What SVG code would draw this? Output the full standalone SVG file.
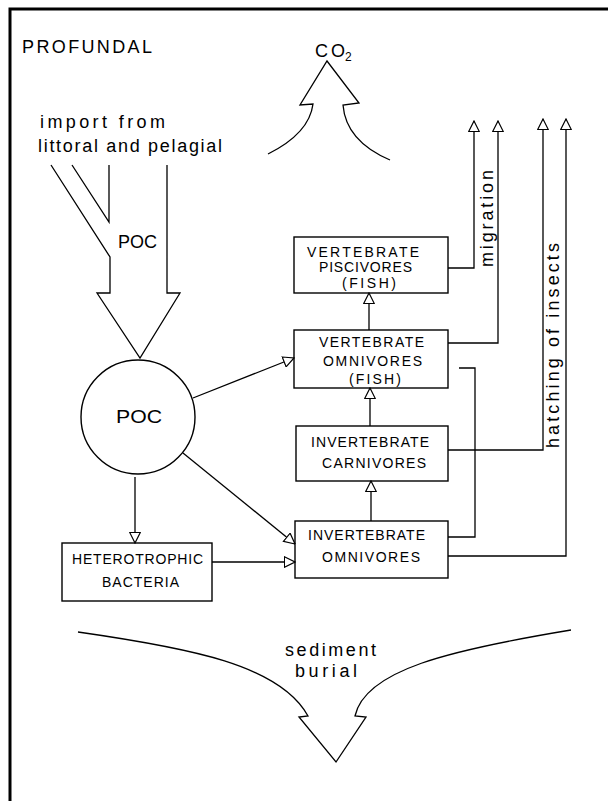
<svg xmlns="http://www.w3.org/2000/svg" width="608" height="801" viewBox="0 0 608 801">
  <style>
    .frame { fill: none; stroke: #000; stroke-width: 3; }
    .ln { fill: none; stroke: #000; stroke-width: 1.3; stroke-linejoin: miter; }
    .box { fill: #fff; stroke: #000; stroke-width: 1.4; }
    .cap { font-family: "Liberation Sans", Arial, sans-serif; font-size: 14px; fill: #000; }
    .hand { font-family: "Liberation Sans", Arial, sans-serif; font-size: 18px; fill: #000; }
  </style>
  <defs>
    <marker id="tri" viewBox="0 0 12 12" refX="11.3" refY="6" markerWidth="12" markerHeight="12" markerUnits="userSpaceOnUse" orient="auto">
      <path d="M0.7,0.7 L11.3,6 L0.7,11.3 Z" fill="#fff" stroke="#000" stroke-width="1.2"/>
    </marker>
  </defs>

  <rect width="608" height="801" fill="#fff"/>

  <!-- page frame: top and left rules only -->
  <path class="frame" d="M10,801 V9 H608"/>

  <text class="hand" x="22" y="53" font-size="20" textLength="130">PROFUNDAL</text>

  <!-- import of particulate organic carbon -->
  <g id="import">
    <text class="hand" x="40" y="128" font-size="19" textLength="125">import from</text>
    <text class="hand" x="38" y="152" font-size="19" textLength="184">littoral and pelagial</text>
    <path class="ln" d="M72,165 L109,222 V165"/>
    <path class="ln" d="M51,165 L110,257 V293 H97 L140,358 L180,293 H167 V165"/>
    <text class="hand" x="118" y="248" font-size="20" textLength="39">POC</text>
  </g>

  <!-- respiration -->
  <g id="co2">
    <path class="ln" d="M268,154 C290,143 310,128 313,104 L300,105 L327,61 L359,103 L343,105 C345,130 362,148 390,160"/>
    <text class="hand" x="315" y="57">C<tspan x="331">O</tspan><tspan x="345" y="61" font-size="12">2</tspan></text>
  </g>

  <!-- burial -->
  <g id="burial">
    <path class="ln" d="M78,632 C190,648 280,665 308,716 L299,717 L336,762 L366,717 L355,716 C365,670 450,650 571,630"/>
    <text class="hand" x="285" y="656" font-size="16" textLength="91">sediment</text>
    <text class="hand" x="295" y="677" font-size="16" textLength="62">burial</text>
  </g>

  <g id="poc-pool">
    <circle class="box" cx="138" cy="417" r="57"/>
    <text class="hand" x="116" y="423" font-size="25" textLength="46" lengthAdjust="spacingAndGlyphs">POC</text>
  </g>

  <g id="bacteria">
    <rect class="box" x="62" y="543" width="150" height="58"/>
    <text class="cap" x="72" y="564" textLength="131">HETEROTROPHIC</text>
    <text class="cap" x="102" y="587" textLength="77">BACTERIA</text>
  </g>

  <g id="vert-piscivores">
    <rect class="box" x="294" y="237" width="154" height="56"/>
    <text class="cap" x="307" y="257" textLength="112">VERTEBRATE</text>
    <text class="cap" x="319" y="272" textLength="93">PISCIVORES</text>
    <text class="cap" x="342" y="288" textLength="54">(FISH)</text>
  </g>

  <g id="vert-omnivores">
    <rect class="box" x="294" y="330" width="154" height="58"/>
    <text class="cap" x="319" y="347" textLength="105">VERTEBRATE</text>
    <text class="cap" x="323" y="366" textLength="99">OMNIVORES</text>
    <text class="cap" x="349" y="384" textLength="52">(FISH)</text>
  </g>

  <g id="invert-carnivores">
    <rect class="box" x="296" y="426" width="152" height="55"/>
    <text class="cap" x="311" y="447" textLength="118">INVERTEBRATE</text>
    <text class="cap" x="322" y="468" textLength="104">CARNIVORES</text>
  </g>

  <g id="invert-omnivores">
    <rect class="box" x="295" y="521" width="153" height="57"/>
    <text class="cap" x="308" y="540" textLength="117">INVERTEBRATE</text>
    <text class="cap" x="322" y="562" textLength="98">OMNIVORES</text>
  </g>

  <g id="connectors">
    <path class="ln" d="M193,398 L294,358" marker-end="url(#tri)"/>
    <path class="ln" d="M183,453 L295,544" marker-end="url(#tri)"/>
    <path class="ln" d="M135,477 V543" marker-end="url(#tri)"/>
    <path class="ln" d="M212,562 H295" marker-end="url(#tri)"/>
    <path class="ln" d="M371,521 V481" marker-end="url(#tri)"/>
    <path class="ln" d="M370,426 V388" marker-end="url(#tri)"/>
    <path class="ln" d="M369,330 V293" marker-end="url(#tri)"/>
    <path class="ln" d="M448,268 H474 V121" marker-end="url(#tri)"/>
    <path class="ln" d="M448,343 H498 V121" marker-end="url(#tri)"/>
    <path class="ln" d="M448,450 H543 V119" marker-end="url(#tri)"/>
    <path class="ln" d="M448,556 H566 V119" marker-end="url(#tri)"/>
    <path class="ln" d="M459,368 H475 V537 H448"/>
  </g>

  <text class="hand" font-size="17" textLength="97" transform="translate(493,267) rotate(-90)">migration</text>
  <text class="hand" font-size="17" textLength="205" transform="translate(559,448) rotate(-90)">hatching of insects</text>
</svg>
